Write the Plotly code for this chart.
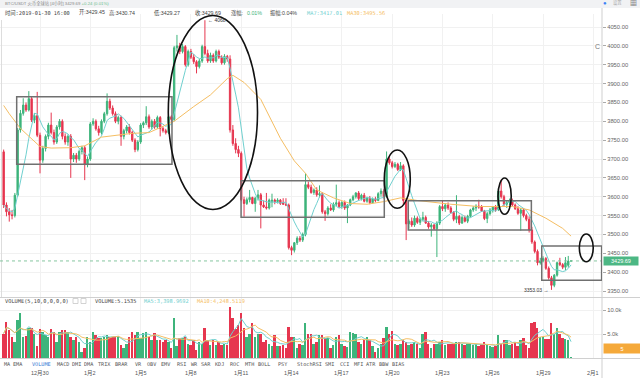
import numpy as np
import pandas as pd
import plotly.graph_objects as go

# ---------------- data (4h candles, BTC/USDT) ----------------
start_time = "2018-12-27 20:00"
open_ = [3719,3578,3560,3552,3550,3604,3777,3821,3843,3830,3860,3803,3815,3763,3697,3728,3760,3790,3770,3745,
         3785,3800,3760,3745,3760,3700,3710,3700,3720,3730,3685,3700,3793,3800,3780,3770,3800,3820,3853,3835,
         3820,3800,3810,3760,3775,3785,3770,3750,3725,3745,3790,3796,3812,3785,3800,3785,3810,3781,3775,3770,
         3812,3805,3995,4000,3985,3998,3950,3985,3970,3958,3945,3960,3998,3980,3960,3975,3960,3985,3970,3955,
         3972,3965,3777,3741,3725,3715,3592,3582,3592,3598,3582,3596,3605,3578,3573,3570,3586,3591,3587,3591,
         3585,3580,3578,3465,3458,3478,3490,3485,3500,3632,3625,3611,3618,3605,3608,3560,3555,3570,3565,3580,
         3584,3574,3585,3570,3578,3592,3600,3610,3595,3604,3588,3596,3584,3594,3590,3608,3615,3600,3700,3690,
         3680,3686,3672,3682,3590,3528,3535,3525,3543,3532,3540,3545,3530,3520,3525,3515,3530,3574,3568,3578,
         3570,3558,3540,3548,3530,3545,3535,3548,3565,3570,3575,3573,3562,3542,3555,3565,3572,3566,3615,3600,
         3580,3585,3590,3578,3568,3556,3565,3550,3540,3512,3480,3455,3425,3430,3436,3410,3385,3365,3392,3425,
         3420,3413,3418,3429.45]
high = [3725,3585,3570,3565,3610,3782,3830,3861,3850,3880,3866,3822,3878,3770,3735,3765,3796,3823,3778,3790,
        3806,3805,3768,3765,3766,3716,3716,3725,3735,3735,3706,3798,3808,3805,3788,3805,3825,3874,3860,3842,
        3826,3815,3815,3780,3790,3792,3775,3755,3750,3795,3800,3840,3818,3805,3806,3815,3814,3786,3780,3818,
        3816,4000,4029,4008,4005,4002,3990,3992,3978,3962,3965,4003,4068,3990,3982,3980,3990,3990,3975,3978,
        3976,3975,3790,3755,3735,3720,3600,3598,3618,3600,3600,3618,3610,3590,3610,3595,3608,3595,3596,3594,
        3596,3596,3582,3470,3480,3495,3496,3505,3662,3640,3632,3622,3625,3630,3612,3565,3575,3580,3585,3632,
        3590,3588,3590,3580,3595,3605,3612,3615,3608,3610,3600,3602,3598,3600,3612,3622,3620,3720,3705,3695,
        3692,3690,3692,3686,3595,3540,3545,3550,3548,3545,3560,3550,3535,3530,3528,3535,3578,3590,3582,3585,
        3575,3562,3604,3552,3550,3550,3552,3568,3575,3580,3592,3578,3565,3560,3570,3575,3578,3622,3645,3605,
        3590,3595,3595,3582,3575,3570,3570,3555,3548,3520,3484,3460,3438,3442,3440,3415,3390,3395,3428,3438,
        3424,3440,3443,3430.74]
low = [3570,3548,3534,3540,3545,3600,3770,3815,3825,3826,3798,3795,3758,3662,3690,3720,3752,3765,3738,3740,
       3778,3752,3738,3735,3650,3692,3690,3695,3712,3644,3678,3695,3788,3775,3762,3765,3795,3815,3830,3815,
       3795,3792,3735,3752,3768,3765,3745,3718,3720,3740,3782,3790,3780,3778,3780,3780,3760,3770,3765,3766,
       3798,3800,3985,3978,3980,3945,3945,3965,3952,3927,3940,3955,3975,3955,3955,3955,3956,3965,3950,3950,
       3958,3770,3735,3715,3705,3588,3547,3578,3585,3580,3560,3590,3516,3570,3566,3566,3572,3580,3582,3578,
       3578,3575,3460,3445,3452,3472,3480,3480,3495,3620,3608,3605,3600,3598,3555,3536,3550,3562,3560,3575,
       3570,3568,3565,3530,3575,3588,3595,3590,3590,3585,3584,3580,3582,3585,3588,3600,3595,3598,3685,3675,
       3676,3668,3668,3580,3485,3515,3520,3520,3528,3525,3535,3528,3515,3494,3512,3440,3525,3562,3560,3565,
       3555,3535,3530,3525,3528,3532,3530,3545,3560,3562,3568,3560,3538,3530,3550,3558,3560,3562,3595,3575,
       3570,3578,3575,3565,3552,3510,3545,3535,3505,3475,3450,3418,3420,3426,3406,3380,3353.03,3360,3388,3416,
       3408,3405,3412,3429.27]
close = [3578,3560,3552,3550,3604,3777,3821,3843,3830,3860,3803,3815,3763,3697,3728,3760,3790,3770,3745,3785,
         3800,3760,3745,3760,3700,3710,3700,3720,3730,3685,3700,3793,3800,3780,3770,3800,3820,3853,3835,3820,
         3800,3810,3760,3775,3785,3770,3750,3725,3745,3790,3796,3812,3785,3800,3785,3810,3781,3775,3770,3812,
         3805,3995,4000,3985,3998,3950,3985,3970,3958,3945,3960,3998,3980,3960,3975,3960,3985,3970,3955,3972,
         3965,3777,3741,3725,3715,3592,3582,3592,3598,3582,3596,3605,3578,3573,3570,3591,3591,3587,3591,3582,
         3580,3578,3465,3458,3478,3490,3485,3500,3632,3625,3611,3618,3605,3608,3560,3555,3570,3565,3580,3584,
         3574,3585,3570,3578,3592,3600,3610,3595,3604,3588,3596,3584,3594,3590,3608,3615,3600,3700,3690,3680,
         3686,3672,3682,3590,3528,3535,3525,3543,3532,3540,3545,3530,3520,3525,3515,3530,3574,3568,3578,3570,
         3558,3540,3548,3530,3545,3535,3548,3565,3570,3575,3573,3562,3542,3555,3565,3572,3566,3615,3600,3580,
         3585,3590,3578,3568,3556,3565,3550,3540,3512,3480,3455,3425,3430,3436,3410,3385,3365,3392,3425,3420,
         3413,3425,3429.45,3429.69]
volume_k = [5.1,7.6,5.8,4.4,3.4,7.9,9.4,4.4,4.6,6.2,6.2,5.0,2.4,6.0,5.5,4.8,4.4,6.0,5.5,3.4,
            5.5,5.8,5.8,5.5,4.4,3.8,4.4,3.4,1.3,2.0,4.4,3.4,5.5,4.8,4.1,4.1,4.4,4.8,4.4,4.4,
            4.4,4.5,2.7,2.0,3.0,4.4,5.5,4.8,5.5,4.1,5.2,5.5,4.4,3.7,5.2,3.7,3.7,3.4,3.7,3.4,
            2.0,8.3,2.4,4.1,4.1,4.4,3.0,2.7,3.7,1.7,3.4,3.0,6.2,3.7,2.7,3.7,2.7,3.4,2.7,3.0,
            2.7,10.7,8.3,6.0,6.8,9.3,6.2,4.4,5.1,7.2,4.4,5.1,5.1,3.4,3.7,3.0,2.4,4.8,2.4,2.4,
            2.7,2.0,6.5,4.4,4.4,2.0,3.0,2.7,7.2,5.1,5.1,3.0,3.4,4.8,4.8,4.1,4.1,2.0,2.7,4.4,
            4.8,3.0,2.4,2.2,5.5,5.2,5.1,3.4,3.0,3.7,4.4,3.7,2.4,1.3,2.0,3.0,4.1,6.5,5.1,5.7,
            3.0,2.7,3.0,3.7,3.4,2.7,3.0,3.4,3.0,2.0,5.1,5.5,3.0,2.0,3.0,3.0,3.4,3.7,2.7,3.0,
            3.0,3.0,3.4,3.4,3.0,2.7,3.0,3.0,2.7,3.0,2.4,3.0,3.4,2.7,2.4,2.2,2.4,4.8,3.0,3.7,
            3.7,2.7,3.0,3.4,2.4,3.7,4.1,2.7,2.0,7.2,7.6,6.2,4.4,4.4,4.0,4.0,7.2,5.1,6.2,5.0,
            4.2,4.0,3.8,0.0052]
# MA30 as drawn (candle index -> value)
ma30_idx = [0, 2, 6, 9, 13, 17, 24, 29, 35, 46, 52, 58, 61, 68, 74, 80, 82, 86, 92, 99, 104, 108, 112,
            118, 124, 130, 136, 142, 148, 160, 170, 182, 188, 194, 200, 203]
ma30_val = [3842, 3820, 3781, 3760, 3733, 3729, 3730, 3735, 3758, 3768, 3770, 3790, 3800, 3839, 3870, 3913,
            3922, 3903, 3858, 3755, 3695, 3662, 3618, 3597, 3582, 3580, 3587, 3597, 3590, 3580, 3574, 3574,
            3565, 3543, 3516, 3495.56]
tick_dates = ["2018-12-30", "2019-01-02", "2019-01-05", "2019-01-08", "2019-01-11", "2019-01-14",
              "2019-01-17", "2019-01-20", "2019-01-23", "2019-01-26", "2019-01-29", "2019-02-01"]
tick_text = ["12月30", "1月2", "1月5", "1月8", "1月11", "1月14", "1月17", "1月20", "1月23", "1月26", "1月29", "2月1"]
indicators = ["MA", "EMA", "VOLUME", "MACD", "DMI", "DMA", "TRIX", "BRAR", "VR", "OBV", "EMV", "RSI", "WR",
              "SAR", "KDJ", "ROC", "MTH", "BOLL", "PSY", "StochRSI", "SMI", "CCI", "MFI", "ATR", "BBW", "BIAS"]
price_ticks = [3350, 3400, 3450, 3500, 3550, 3600, 3650, 3700, 3750, 3800, 3850, 3900, 3950, 4000, 4050]

# ---------------- derived ----------------
origin = pd.Timestamp("2018-12-30")
times = pd.date_range(start_time, periods=len(close), freq="4h")
xd = np.asarray((times - origin) / pd.Timedelta(days=1), dtype=float)
tick_x = [(pd.Timestamp(d) - origin) / pd.Timedelta(days=1) for d in tick_dates]
close_s = pd.Series(close)
ma7 = close_s.rolling(7, min_periods=1).mean()
vol = pd.Series(volume_k) * 1000
vma5 = vol.rolling(5, min_periods=1).mean()
vma10 = vol.rolling(10, min_periods=1).mean()
ma30_x = xd[ma30_idx]

GREEN = "#3db47b"
RED = "#e6364f"
CYAN = "#6fd0cf"
ORANGE = "#f5be63"
up = [c >= o for o, c in zip(open_, close)]
vcol = [GREEN if u else RED for u in up]

W, H = 640, 378
ML, MR, MT, MB = 0, 38, 14, 20
PW = W - ML - MR
PH = H - MT - MB


def px(x, y):
    return x / PW, (H - MB - y) / PH


price_top_px, price_bot_px = 14, 297
vol_top_px, vol_bot_px = 298, 358
s = 0.37714  # px per price unit
p_top = 4050 + (27 - price_top_px) / s
p_bot = 3350 - (price_bot_px - 291) / s

fig = go.Figure()
fig.add_trace(go.Candlestick(
    x=xd, open=open_, high=high, low=low, close=close,
    increasing=dict(line=dict(color=GREEN, width=1), fillcolor=GREEN),
    decreasing=dict(line=dict(color=RED, width=1), fillcolor=RED),
    whiskerwidth=0, showlegend=False, xaxis="x", yaxis="y", hoverinfo="skip"))
fig.add_trace(go.Scatter(x=xd, y=ma7, mode="lines", line=dict(color=CYAN, width=1),
                         showlegend=False, xaxis="x", yaxis="y", hoverinfo="skip"))
fig.add_trace(go.Scatter(x=ma30_x, y=ma30_val, mode="lines", line=dict(color=ORANGE, width=1),
                         showlegend=False, xaxis="x", yaxis="y", hoverinfo="skip"))
fig.add_trace(go.Bar(x=xd, y=vol, marker=dict(color=vcol, line=dict(width=0)), width=0.115,
                     showlegend=False, xaxis="x", yaxis="y2", hoverinfo="skip"))
fig.add_trace(go.Scatter(x=xd, y=vma5, mode="lines", line=dict(color=CYAN, width=1),
                         showlegend=False, xaxis="x", yaxis="y2", hoverinfo="skip"))
fig.add_trace(go.Scatter(x=xd, y=vma10, mode="lines", line=dict(color=ORANGE, width=1),
                         showlegend=False, xaxis="x", yaxis="y2", hoverinfo="skip"))

x_lo = (0 - 40) / 16.77
x_hi = (PW - 40) / 16.77

shapes = []
# top grey strip
shapes.append(dict(type="rect", xref="paper", yref="paper", x0=0, x1=W / PW, y0=px(0, 8)[1], y1=px(0, 0)[1],
                   fillcolor="#f1f2f4", line=dict(width=0), layer="below"))
# separators
for yy in (297.5, 358.5):
    shapes.append(dict(type="line", xref="paper", yref="paper", x0=0, x1=W / PW,
                       y0=px(0, yy)[1], y1=px(0, yy)[1], line=dict(color="#d0d0d0", width=1)))
shapes.append(dict(type="line", xref="paper", yref="paper", x0=1, x1=1, y0=px(0, H)[1], y1=px(0, 8)[1],
                   line=dict(color="#cfcfcf", width=1)))
shapes.append(dict(type="line", xref="paper", yref="paper", x0=px(1.5, 0)[0], x1=px(1.5, 0)[0],
                   y0=px(0, 297)[1], y1=px(0, 20)[1], line=dict(color="#dddddd", width=1)))
# current price dotted line
shapes.append(dict(type="line", xref="paper", yref="y", x0=0, x1=1, y0=close[-1], y1=close[-1],
                   line=dict(color="#86c7a0", width=1, dash="dot")))
# drawn boxes and ellipses (in data units)
boxes = [(-1.39, 7.87, 3685.9, 3865.2), (11.99, 20.53, 3545.4, 3642.5),
         (21.96, 29.30, 3511.7, 3589.4), (29.92, 33.49, 3378.4, 3469.3)]
for b in boxes:
    shapes.append(dict(type="rect", xref="x", yref="y", x0=b[0], x1=b[1], y0=b[2], y1=b[3],
                       line=dict(color="#707070", width=1.5)))
ellipses = [(7.65, 12.97, 3566.1, 4080.5), (20.53, 22.08, 3569.3, 3723.9),
            (27.31, 28.10, 3553.4, 3649.6), (32.16, 32.99, 3427.7, 3501.1)]
for e in ellipses:
    shapes.append(dict(type="circle", xref="x", yref="y", x0=e[0], x1=e[1], y0=e[2], y1=e[3],
                       line=dict(color="#111111", width=1.6)))

FONT = "Liberation Sans, Noto Sans CJK SC, sans-serif"
MONO = "DejaVu Sans Mono, Noto Sans CJK SC, monospace"
ann = []


def text(x, y, t, color="#555", size=5.5, anchor="left", family=FONT, **kw):
    xp, yp = px(x, y)
    ann.append(dict(xref="paper", yref="paper", x=xp, y=yp, text=t, showarrow=False,
                    xanchor=anchor, yanchor="middle", font=dict(size=size, color=color, family=family), **kw))


# header lines
text(3, 4, "BTC/USDT 火币全球站 [4小时] 3429.69 <span style='color:#6cc08e'>+0.24 (0.01%)</span>",
     color="#888", size=4.3)
head = [(3, "时间:2019-01-30 16:00", "#444", MONO), (77, "开:3429.45", "#444", FONT),
        (107, "高:3430.74", "#444", FONT), (152, "低:3429.27", "#444", FONT),
        (193, "收:3429.69", "#444", FONT), (229, "涨幅:", "#444", FONT),
        (245, "0.01%", "#3db47b", FONT), (268, "振幅:0.04%", "#444", FONT),
        (305, "MA7:3417.01", CYAN, MONO), (345, "MA30:3495.56", ORANGE, MONO)]
for x, t, c, f in head:
    text(x, 13, t, color=c, size=5.3, family=f)
# volume header
text(3, 301, "VOLUME(5,10,0,0,0,0)", color="#444", size=5.3, family=MONO)
for bx in (73, 81):
    shapes.append(dict(type="rect", xref="paper", yref="paper", x0=px(bx, 0)[0], x1=px(bx + 5, 0)[0],
                       y0=px(0, 303.5)[1], y1=px(0, 298.5)[1], line=dict(color="#c8c8c8", width=0.8)))
text(93, 301, "VOLUME:5.1535", color="#444", size=5.3, family=MONO)
text(142, 301, "MA5:3,398.9692", color=CYAN, size=5.3, family=MONO)
text(195, 301, "MA10:4,248.5119", color=ORANGE, size=5.3, family=MONO)
# indicator names
ind_x = [7, 18, 41, 63, 76, 89, 104, 121, 138, 151, 166, 181, 194, 206, 219, 234, 249, 264, 283, 309,
         329, 344, 358, 371, 384, 398]
for x, t in zip(ind_x, indicators):
    text(x, 364, t, color="#3a7bd5" if t == "VOLUME" else "#555", size=5.2, anchor="center", family=MONO)
# date labels
for tx, tt in zip(tick_x, tick_text):
    ann.append(dict(xref="x", yref="paper", x=tx, y=px(0, 373)[1], text=tt, showarrow=False,
                    xanchor="center", yanchor="middle", font=dict(size=5.5, color="#555", family=FONT)))
# price labels
ann.append(dict(xref="x", yref="y", x=xd[72], y=4068, text="← 4068", showarrow=False, xanchor="left",
                xshift=1, yanchor="middle", font=dict(size=5, color="#333", family=FONT)))
ann.append(dict(xref="x", yref="y", x=xd[196], y=3353.03, text="3353.03 →", showarrow=False,
                xanchor="right", xshift=-1, yanchor="middle", font=dict(size=5, color="#333", family=FONT)))
# current price tag
ann.append(dict(xref="paper", yref="y", x=1.002, y=close[-1], text="3429.69", showarrow=False,
                xanchor="left", yanchor="middle", bgcolor="#4cb784", width=34, height=8, borderpad=0,
                font=dict(size=5.5, color="white", family=FONT)))
# current volume tag
ann.append(dict(xref="paper", yref="paper", x=1.002, y=px(0, 348.5)[1], text="5", showarrow=False,
                xanchor="left", yanchor="middle", bgcolor="#f5a93a", width=36, height=9, borderpad=0,
                font=dict(size=5.5, color="white", family=FONT)))
text(597, 46, "C", color="#777", size=7, anchor="center")
# top-right icons
text(605, 3, "●", color="#3b82f6", size=6, anchor="center")
text(611, 3, "设置", color="#aaa", size=4.3)
text(634, 3, "▦", color="#444", size=7, anchor="center")

fig.update_layout(
    width=W, height=H, margin=dict(l=ML, r=MR, t=MT, b=MB, autoexpand=False),
    paper_bgcolor="white", plot_bgcolor="white", hovermode=False, bargap=0,
    shapes=shapes, annotations=ann,
    xaxis=dict(domain=[0, 1], range=[x_lo, x_hi], anchor="y2", tickvals=tick_x, showticklabels=False,
               showgrid=True, gridcolor="#f1f1f1", gridwidth=1, zeroline=False, showline=False,
               rangeslider=dict(visible=False), ticks="", automargin=False),
    yaxis=dict(domain=[px(0, price_bot_px)[1], 1], range=[p_bot, p_top], side="right", anchor="x",
               tickvals=price_ticks, ticktext=[f"{v:.2f}" for v in price_ticks], automargin=False,
               ticks="outside", ticklen=3, tickcolor="#aaa", showgrid=True, gridcolor="#f1f1f1",
               zeroline=False, showline=False, tickfont=dict(size=5.8, color="#666", family=FONT)),
    yaxis2=dict(domain=[0, px(0, vol_top_px)[1]], range=[0, (vol_bot_px - vol_top_px) / 4.8 * 1000],
                side="right", anchor="x", tickvals=[5000, 10000], ticktext=["5.0k", "10.0k"], automargin=False,
                ticks="outside", ticklen=3, tickcolor="#aaa", showgrid=True, gridcolor="#f1f1f1",
                zeroline=False, showline=False, tickfont=dict(size=5.8, color="#666", family=FONT)),
)
fig.write_html("out.html", config={"displayModeBar": False},
               post_script="document.body.style.margin='0';document.body.style.padding='0';"
                           "document.documentElement.style.overflow='hidden';")
